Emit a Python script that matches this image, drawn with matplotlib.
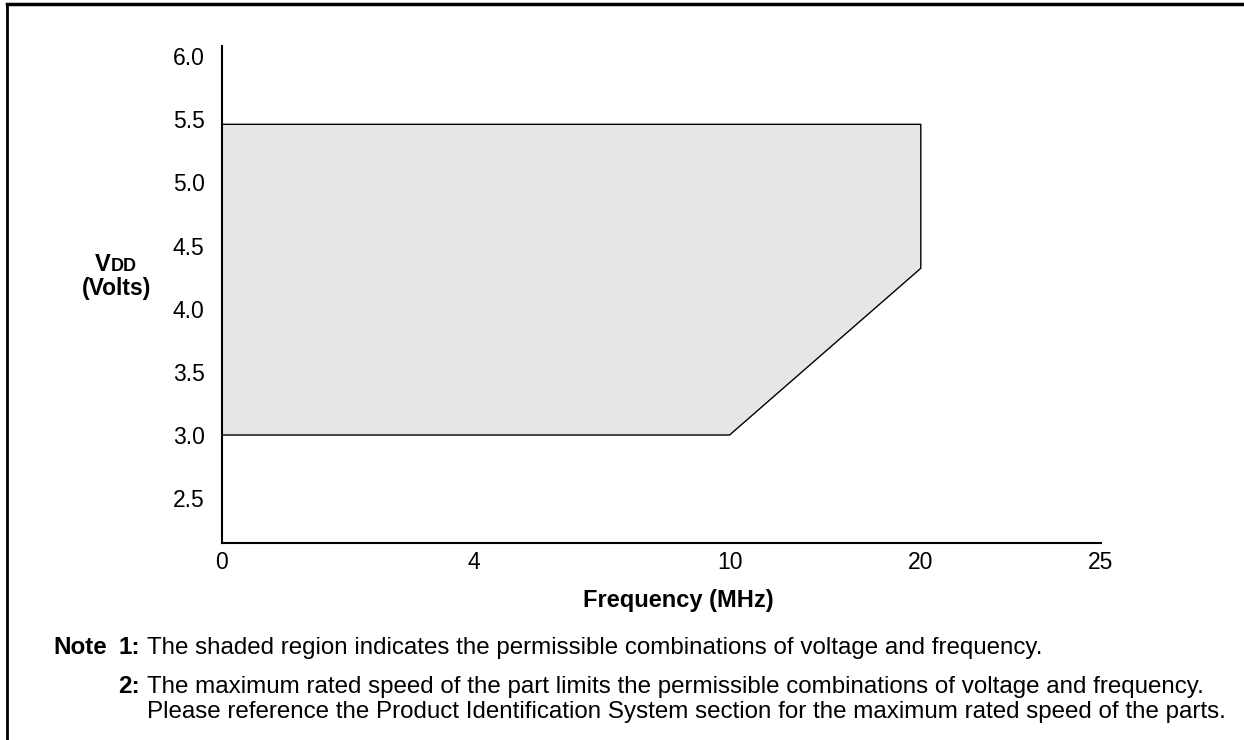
import numpy as np
import matplotlib
matplotlib.use("Agg")
import matplotlib.pyplot as plt
from matplotlib.lines import Line2D

plt.rcParams['font.family'] = ['Liberation Sans', 'DejaVu Sans']

# x axis ticks (MHz) and where they sit along the axis (the datasheet axis is not linear)
freq_ticks = [0, 4, 10, 20, 25]
freq_place = [0, 252, 507, 698, 878]
vdd_ticks = [2.5, 3.0, 3.5, 4.0, 4.5, 5.0, 5.5, 6.0]

# corners of the shaded operating region
region_freq = [0, 0, 20, 20, 10]
region_vdd = [3.0, 5.46, 5.46, 4.32, 3.0]

note1 = "The shaded region indicates the permissible combinations of voltage and frequency."
note2a = "The maximum rated speed of the part limits the permissible combinations of voltage and frequency."
note2b = "Please reference the Product Identification System section for the maximum rated speed of the parts."


def fwd(x):
    return np.interp(x, freq_ticks, freq_place)


def inv(p):
    return np.interp(p, freq_place, freq_ticks)


W, H = 1244, 740
fig = plt.figure(figsize=(W / 100, H / 100), dpi=100)
ax = fig.add_axes([222 / W, 1 - 543 / H, (1101 - 222) / W, (543 - 46) / H])

ax.set_xscale('function', functions=(fwd, inv))
ax.set_xlim(0, 25)
ax.set_ylim(2.145, 6.08)

ax.fill(region_freq, region_vdd, facecolor='#e6e6e6', edgecolor='black', linewidth=1.0, zorder=2)

ax.set_xticks(freq_ticks)
ax.set_xticklabels([str(f) for f in freq_ticks])
ax.set_yticks(vdd_ticks)
ax.set_yticklabels(['%.1f' % v for v in vdd_ticks])
ax.tick_params(length=0, labelsize=16.5)
ax.tick_params(axis='y', pad=12.5)
ax.tick_params(axis='x', pad=5.5)
ax.minorticks_off()

for s in ['top', 'right']:
    ax.spines[s].set_visible(False)
for s in ['left', 'bottom']:
    ax.spines[s].set_linewidth(1.5)
    ax.spines[s].set_color('black')


def ftext(x, y, s, **kw):
    # place text using pixel coordinates measured from the top-left corner
    return fig.text(x / W, 1 - y / H, s, va='baseline', **kw)


# axis titles
ftext(678, 607, 'Frequency (MHz)', ha='center', fontsize=17, fontweight='bold')
ftext(111, 271, 'V', ha='right', fontsize=17, fontweight='bold')
ftext(111, 271, 'DD', ha='left', fontsize=13, fontweight='bold')
ftext(117, 295, '(Volts)', ha='center', fontsize=16.5, fontweight='bold')

# notes
ftext(53, 654, 'Note', ha='left', fontsize=17.4, fontweight='bold')
ftext(140, 654, '1:', ha='right', fontsize=17.4, fontweight='bold')
ftext(147, 654, note1, ha='left', fontsize=17.4)
ftext(140, 693, '2:', ha='right', fontsize=17.4, fontweight='bold')
ftext(147, 693, note2a, ha='left', fontsize=17.4)
ftext(147, 718, note2b, ha='left', fontsize=17.4)

# page frame (left and top rules)
fig.add_artist(Line2D([7 / W, 7 / W], [0, 1 - 4 / H], color='black', linewidth=2))
fig.add_artist(Line2D([7 / W, 1], [1 - 4 / H, 1 - 4 / H], color='black', linewidth=2.5))

fig.savefig('out.png', dpi=100)
